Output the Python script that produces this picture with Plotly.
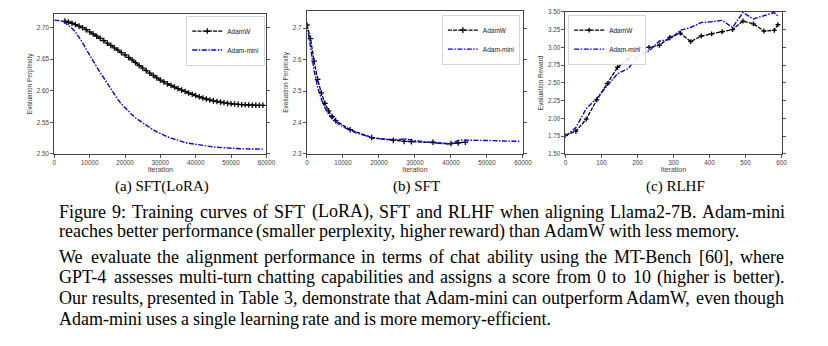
import plotly.graph_objects as go

W, H = 828, 346

# ---------------- data ----------------
a_iter_adamw = list(range(3000, 60000, 1000))
a_adamw = [2.7105, 2.7090, 2.7070, 2.7050, 2.7025, 2.7000, 2.6970, 2.6935, 2.6900, 2.6865,
           2.6830, 2.6795, 2.6755, 2.6720, 2.6680, 2.6645, 2.6605, 2.6570, 2.6530, 2.6490,
           2.6445, 2.6400, 2.6360, 2.6320, 2.6280, 2.6245, 2.6205, 2.6170, 2.6140, 2.6110,
           2.6085, 2.6060, 2.6035, 2.6010, 2.5990, 2.5965, 2.5945, 2.5925, 2.5905, 2.5885,
           2.5870, 2.5855, 2.5840, 2.5830, 2.5820, 2.5810, 2.5800, 2.5795, 2.5790, 2.5785,
           2.5780, 2.5778, 2.5775, 2.5772, 2.5770, 2.5770, 2.5770]
a_iter_mini = list(range(0, 60000, 1000))
a_mini = [2.7120, 2.7118, 2.7105, 2.7080, 2.7040, 2.6990, 2.6930, 2.6850, 2.6760, 2.6660,
          2.6560, 2.6470, 2.6380, 2.6290, 2.6200, 2.6110, 2.6020, 2.5940, 2.5860, 2.5790,
          2.5730, 2.5670, 2.5620, 2.5570, 2.5530, 2.5490, 2.5450, 2.5410, 2.5380, 2.5350,
          2.5320, 2.5295, 2.5270, 2.5250, 2.5230, 2.5215, 2.5190, 2.5180, 2.5170, 2.5160,
          2.5150, 2.5140, 2.5130, 2.5120, 2.5115, 2.5110, 2.5105, 2.5100, 2.5095, 2.5090,
          2.5088, 2.5085, 2.5083, 2.5080, 2.5080, 2.5078, 2.5077, 2.5076, 2.5076, 2.5075]

b_iter_adamw = [0, 1000, 2000, 3000, 4000, 5000, 6000, 7000, 8000, 12000, 18000, 24000,
                27000, 29000, 35000, 40000, 42000, 44000]
b_adamw = [2.710, 2.667, 2.595, 2.537, 2.494, 2.461, 2.437, 2.419, 2.406, 2.377, 2.352,
           2.343, 2.340, 2.339, 2.337, 2.333, 2.335, 2.337]
b_iter_mini = list(range(0, 60000, 1000))
b_mini = [2.715, 2.635, 2.565, 2.512, 2.475, 2.447, 2.427, 2.412, 2.401, 2.393,
          2.386, 2.380, 2.375, 2.370, 2.366, 2.362, 2.358, 2.355, 2.352, 2.349,
          2.347, 2.347, 2.346, 2.346, 2.345, 2.345, 2.346, 2.348, 2.347, 2.344,
          2.342, 2.341, 2.340, 2.339, 2.338, 2.337, 2.336, 2.335, 2.333, 2.331,
          2.333, 2.338, 2.343, 2.344, 2.344, 2.344, 2.344, 2.343, 2.343, 2.343,
          2.343, 2.342, 2.342, 2.342, 2.341, 2.341, 2.341, 2.340, 2.340, 2.340]

c_iter = [0, 29, 58, 87, 116, 145, 174, 203, 232, 261, 290, 319, 348, 377, 406, 435, 464,
          493, 522, 551, 580, 590]
c_adamw = [1.76, 1.82, 1.99, 2.26, 2.49, 2.72, 2.83, 3.00, 3.00, 3.03, 3.14, 3.20, 3.08, 3.16,
           3.19, 3.22, 3.25, 3.37, 3.33, 3.23, 3.24, 3.32]
c_mini = [1.75, 1.87, 2.14, 2.28, 2.46, 2.63, 2.70, 2.89, 2.95, 3.09, 3.11, 3.24, 3.28, 3.35,
          3.36, 3.38, 3.28, 3.49, 3.40, 3.44, 3.49, 3.44]

series_names = ["AdamW", "Adam-mini"]
sub_captions = ["(a) SFT(LoRA)", "(b) SFT", "(c) RLHF"]
y_titles = ["Evaluation Perplexity", "Evaluation Perplexity", "Evaluation Reward"]
x_title = "Iteration"

caption_lines = [
    ("Figure 9: Training curves of SFT (LoRA), SFT and RLHF when aligning Llama2-7B. Adam-mini", True),
    ("reaches better performance (smaller perplexity, higher reward) than AdamW with less memory.", False),
    ("We evaluate the alignment performance in terms of chat ability using the MT-Bench [60], where", True),
    ("GPT-4 assesses multi-turn chatting capabilities and assigns a score from 0 to 10 (higher is better).", True),
    ("Our results, presented in Table 3, demonstrate that Adam-mini can outperform AdamW, even though", True),
    ("Adam-mini uses a single learning rate and is more memory-efficient.", False),
]

# ---------------- layout helpers ----------------
def fx(px):
    return px / W

def fy(py):
    return 1 - py / H

panels = [  # left, right, top, bottom in px
    (53, 268, 10, 153),
    (309, 528, 7, 153),
    (571, 790, 8, 153),
]

BLACK = "#000000"
BLUE = "#0000ff"
SANS = "Liberation Sans"
SERIF = "Liberation Serif"

fig = go.Figure()

def add_pair(ix, x1, y1, x2, y2, legend, msize):
    xa = "x" if ix == 1 else f"x{ix}"
    ya = "y" if ix == 1 else f"y{ix}"
    fig.add_trace(go.Scatter(
        x=x1, y=y1, name=series_names[0], xaxis=xa, yaxis=ya, mode="lines+markers",
        line=dict(color=BLACK, width=1.3, dash="4px,1.2px"),
        marker=dict(symbol="cross-thin", size=msize, line=dict(color=BLACK, width=1.3)),
        legend=legend))
    fig.add_trace(go.Scatter(
        x=x2, y=y2, name=series_names[1], xaxis=xa, yaxis=ya, mode="lines",
        line=dict(color=BLUE, width=1.4, dash="5px,1.5px,1.5px,1.5px"),
        legend=legend))

add_pair(1, a_iter_adamw, a_adamw, a_iter_mini, a_mini, "legend", 4)
add_pair(2, b_iter_adamw, b_adamw, b_iter_mini, b_mini, "legend2", 4)
add_pair(3, c_iter, c_adamw, c_iter, c_mini, "legend3", 3.5)

tickfont = dict(family=SANS, size=6.3, color="#444")
titlefont = dict(family=SANS, size=6.5, color="#444")

def xaxis(ix, rng, dtick):
    l, r, t, b = panels[ix]
    return dict(domain=[fx(l), fx(r)], range=rng, dtick=dtick, tick0=0, tickformat="d",
                anchor="y" if ix == 0 else f"y{ix+1}",
                showline=True, linecolor="#444", linewidth=1, mirror=True,
                ticks="outside", ticklen=3, tickwidth=0.8, tickcolor="#555",
                tickfont=tickfont, showgrid=False, zeroline=False,
                title=dict(text=x_title, font=dict(family=SANS, size=7, color="#444"), standoff=0))

def yaxis(ix, rng, dtick, fmt):
    l, r, t, b = panels[ix]
    return dict(domain=[fy(b), fy(t)], range=rng, dtick=dtick, tick0=0,
                anchor="x" if ix == 0 else f"x{ix+1}", tickformat=fmt,
                showline=True, linecolor="#444", linewidth=1, mirror="ticks",
                ticks="outside", ticklen=3, tickwidth=0.8, tickcolor="#555",
                tickfont=tickfont, showgrid=False, zeroline=False,
                title=dict(text=y_titles[ix], font=titlefont, standoff=3))

legend_common = dict(bgcolor="rgba(255,255,255,0.9)", bordercolor="#cccccc", borderwidth=0.8,
                     font=dict(family=SANS, size=6.5, color="#222"),
                     itemwidth=30, tracegroupgap=0, xanchor="right", yanchor="top")

fig.update_layout(
    width=W, height=H, margin=dict(l=0, r=0, t=0, b=0),
    paper_bgcolor="white", plot_bgcolor="white", showlegend=True,
    xaxis=xaxis(0, [0, 60000], 10000), yaxis=yaxis(0, [2.5, 2.722], 0.05, ".2f"),
    xaxis2=xaxis(1, [0, 60000], 10000), yaxis2=yaxis(1, [2.3, 2.755], 0.1, ".1f"),
    xaxis3=xaxis(2, [0, 600], 100), yaxis3=yaxis(2, [1.5, 3.5], 0.25, ".2f"),
    legend=dict(legend_common, x=fx(266), y=fy(12)),
    legend2=dict(legend_common, x=fx(525), y=fy(11)),
    legend3=dict(legend_common, x=fx(574), y=fy(11), xanchor="left"),
)

# ---------------- caption text (Times metrics for justification) ----------------
TW = {" ": 250, "!": 333, "(": 333, ")": 333, ",": 250, "-": 333, ".": 250, ":": 278,
      "[": 333, "]": 333,
      "A": 722, "B": 667, "C": 667, "D": 722, "E": 611, "F": 556, "G": 722, "H": 722, "I": 333,
      "J": 389, "K": 722, "L": 611, "M": 889, "N": 722, "O": 722, "P": 556, "Q": 722, "R": 667,
      "S": 556, "T": 611, "U": 722, "V": 722, "W": 944, "X": 722, "Y": 722, "Z": 611,
      "a": 444, "b": 500, "c": 444, "d": 500, "e": 444, "f": 333, "g": 500, "h": 500, "i": 278,
      "j": 278, "k": 500, "l": 278, "m": 778, "n": 500, "o": 500, "p": 500, "q": 500, "r": 333,
      "s": 389, "t": 278, "u": 500, "v": 500, "w": 722, "x": 500, "y": 500, "z": 444}

def tw(s, size):
    return sum(TW.get(ch, 500) for ch in s) / 1000.0 * size

FS = 18
X0, X1 = 57, 791
line_y = [212, 232, 258, 279, 300, 321]

annotations = []
for (text, justify), ypx in zip(caption_lines, line_y):
    words = text.split(" ")
    widths = [tw(w, FS) for w in words]
    if justify:
        gap = (X1 - X0 - sum(widths)) / (len(words) - 1)
    else:
        gap = tw(" ", FS)
    x = X0
    for wd, wdt in zip(words, widths):
        annotations.append(dict(text=wd, x=fx(x), y=fy(ypx), xref="paper", yref="paper",
                                xanchor="left", yanchor="middle", showarrow=False, borderpad=0,
                                font=dict(family=SERIF, size=FS, color="black")))
        x += wdt + gap

for cap, (l, r, t, b) in zip(sub_captions, panels):
    annotations.append(dict(text=cap, x=fx((l + r) / 2 + 2), y=fy(186), xref="paper", yref="paper",
                            xanchor="center", yanchor="middle", showarrow=False,
                            font=dict(family=SERIF, size=15, color="black")))

fig.update_layout(annotations=annotations)

fig.write_html("out.html")
